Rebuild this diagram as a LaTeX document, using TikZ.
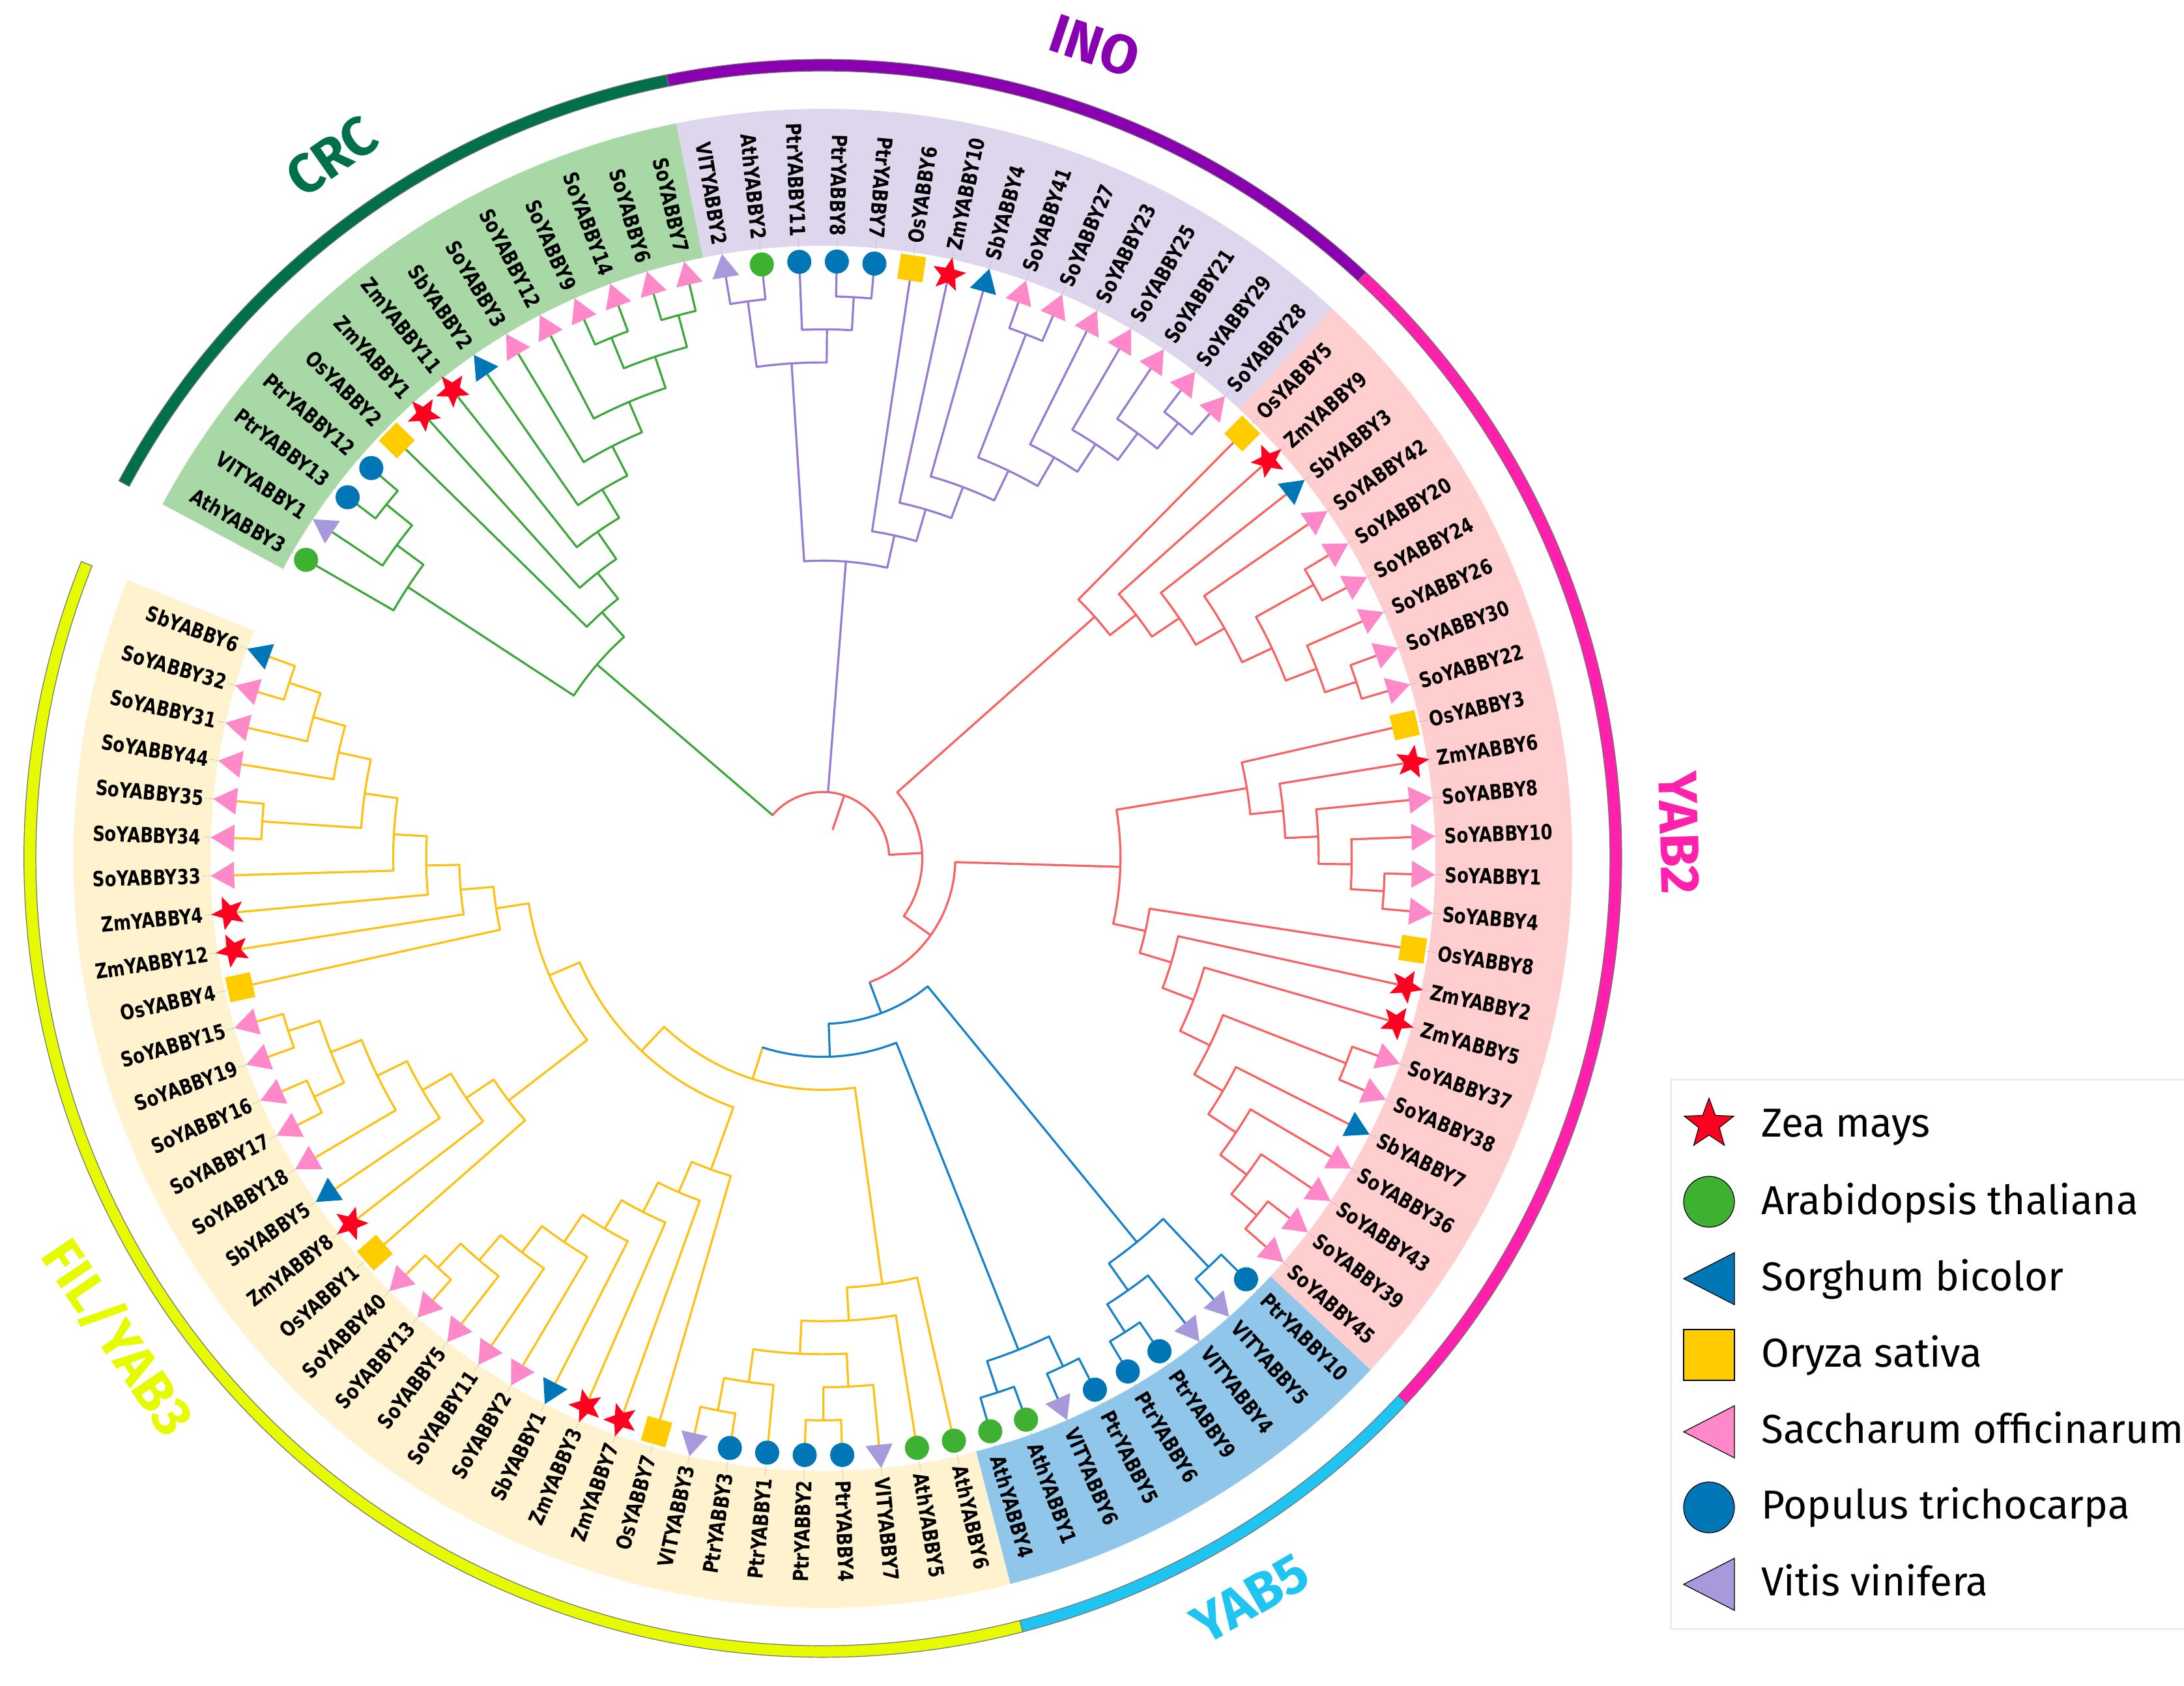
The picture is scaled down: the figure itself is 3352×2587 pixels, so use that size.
\documentclass[tikz,border=0pt]{standalone}
\usepackage{fontspec}
\setmainfont{Fira Sans}
\newfontfamily\labfont[FakeStretch=0.81]{DejaVu Sans}
\usetikzlibrary{shapes.geometric}
\definecolor{gbr}{RGB}{60,168,60}
\definecolor{pbr}{RGB}{150,122,212}
\definecolor{rbr}{RGB}{248,98,98}
\definecolor{bbr}{RGB}{22,130,204}
\definecolor{ybr}{RGB}{255,192,20}
\definecolor{gband}{RGB}{168,216,166}
\definecolor{pband}{RGB}{222,214,236}
\definecolor{rband}{RGB}{255,206,206}
\definecolor{bband}{RGB}{144,198,234}
\definecolor{yband}{RGB}{255,242,206}
\definecolor{gring}{RGB}{0,112,76}
\definecolor{pring}{RGB}{136,0,176}
\definecolor{rring}{RGB}{255,32,172}
\definecolor{bring}{RGB}{32,196,240}
\definecolor{yring}{RGB}{230,250,0}
\definecolor{czm}{RGB}{255,0,32}
\definecolor{cath}{RGB}{62,176,50}
\definecolor{csb}{RGB}{0,118,182}
\definecolor{cos}{RGB}{255,204,0}
\definecolor{cso}{RGB}{255,136,200}
\definecolor{cptr}{RGB}{0,118,182}
\definecolor{cvit}{RGB}{168,152,220}
\definecolor{legbox}{RGB}{236,236,236}

\newcommand\Lf[2]{%
  \pgfmathsetmacro\tmpa{150-#2*3.6082474}%
  \expandafter\xdef\csname A@#1\endcsname{\tmpa}%
  \expandafter\xdef\csname H@#1\endcsname{0}}
\newcommand\Nd[4]{%
  \edef\ca{\csname A@#2\endcsname}%
  \edef\cb{\csname A@#3\endcsname}%
  \edef\ha{\csname H@#2\endcsname}%
  \edef\hb{\csname H@#3\endcsname}%
  \pgfmathtruncatemacro\hh{max(\ha,\hb)+1}%
  \pgfmathsetmacro\rr{913-50.7*\hh}%
  \pgfmathsetmacro\ra{913-50.7*\ha}%
  \pgfmathsetmacro\rb{913-50.7*\hb}%
  \pgfmathsetmacro\mm{(\ca+\cb)/2}%
  \expandafter\xdef\csname A@#1\endcsname{\mm}%
  \expandafter\xdef\csname H@#1\endcsname{\hh}%
  \expandafter\xdef\csname C@#1\endcsname{#4}%
  \ifcsname C@#2\endcsname\edef\cca{\csname C@#2\endcsname}\else\def\cca{#4}\fi
  \ifcsname C@#3\endcsname\edef\ccb{\csname C@#3\endcsname}\else\def\ccb{#4}\fi
  \draw[br,color=\cca] (\ca:\ra pt) -- (\ca:\rr pt);
  \draw[br,color=\ccb] (\cb:\rb pt) -- (\cb:\rr pt);
  \draw[br,color=#4] (\ca:\rr pt) arc[start angle=\ca,end angle=\cb,radius=\rr pt];
}
\newcommand\Leaf[3]{%
  \pgfmathsetmacro\lfang{150-#1*3.6082474}%
  \draw[lead] (\lfang:938pt) -- (\lfang:953pt);
  \node[mk#3=\lfang] (m#1) at (\lfang:916pt) {};
  \ifnum#1<19 \node[lab,anchor=east,rotate=\lfang+180] (t#1) at (\lfang:955pt) {#2};%
  \else\ifnum#1>66 \node[lab,anchor=east,rotate=\lfang+180] (t#1) at (\lfang:955pt) {#2};%
  \else \node[lab,anchor=west,rotate=\lfang] (t#1) at (\lfang:955pt) {#2};\fi\fi
}
\newcommand\myBand[3]{%
  \fill[#3] (#1:940pt) arc[start angle=#1,end angle=#2,radius=940pt] -- (#2:1150pt) arc[start angle=#2,end angle=#1,radius=1150pt] -- cycle;}
\newcommand\myRing[3]{%
  \filldraw[fill=#3,draw=black!55,line width=1.2pt] (#1:1208pt) arc[start angle=#1,end angle=#2,radius=1208pt] -- (#2:1226pt) arc[start angle=#2,end angle=#1,radius=1226pt] -- cycle;}

\begin{document}
\begin{tikzpicture}[x=1pt,y=1pt,
  br/.style={line width=3.2pt,line cap=round,line join=round},
  lead/.style={draw=black!30,line width=1pt,dash pattern=on 2pt off 2pt},
  lab/.style={font=\labfont\bfseries\fontsize{32}{38}\selectfont,inner sep=0pt,text=black},
  grp/.style={font=\bfseries\fontsize{84}{90}\selectfont,inner sep=0pt},
  mkzm/.style={star,star points=5,star point ratio=2.3,fill=czm,inner sep=0pt,minimum size=54pt,rotate=#1-90},
  mkath/.style={circle,fill=cath,inner sep=0pt,minimum size=37pt},
  mkptr/.style={circle,fill=cptr,inner sep=0pt,minimum size=37pt},
  mkos/.style={rectangle,fill=cos,inner sep=0pt,minimum size=39pt,rotate=#1},
  mkso/.style={regular polygon,regular polygon sides=3,fill=cso,inner sep=0pt,minimum size=48pt,rotate=#1-90},
  mksb/.style={regular polygon,regular polygon sides=3,fill=csb,inner sep=0pt,minimum size=48pt,rotate=#1-90},
  mkvit/.style={regular polygon,regular polygon sides=3,fill=cvit,inner sep=0pt,minimum size=48pt,rotate=#1-90},
  legtxt/.style={font=\fontsize{62}{70}\selectfont,inner sep=0pt,anchor=base west}]
\useasboundingbox (-1263pt,-1270pt) rectangle (2089pt,1317pt);
\fill[white] (-1263pt,-1270pt) rectangle (2089pt,1317pt);

% background bands
\myBand{151.804}{101.289}{gband}
\myBand{101.289}{47.165}{pband}
\myBand{47.165}{-43.041}{rband}
\myBand{-43.041}{-75.515}{bband}
\myBand{-75.515}{-201.804}{yband}

% leaves data
\foreach \i in {0,...,97} {\Lf{l\i}{\i}}

% CRC
\Nd{cA}{l2}{l3}{gbr}
\Nd{cB}{l1}{cA}{gbr}
\Nd{cC}{l0}{cB}{gbr}
\Nd{cM}{l12}{l13}{gbr}
\Nd{cL}{l10}{l11}{gbr}
\Nd{cK}{cL}{cM}{gbr}
\Nd{cJ}{l9}{cK}{gbr}
\Nd{cI}{l8}{cJ}{gbr}
\Nd{cH}{l7}{cI}{gbr}
\Nd{cG}{l6}{cH}{gbr}
\Nd{cF}{l5}{cG}{gbr}
\Nd{cE}{l4}{cF}{gbr}
\Nd{cD}{cC}{cE}{gbr}
% INO
\Nd{iN1}{l14}{l15}{pbr}
\Nd{iP}{l17}{l18}{pbr}
\Nd{iN2}{l16}{iP}{pbr}
\Nd{iN3}{iN1}{iN2}{pbr}
\Nd{iQ1}{l27}{l28}{pbr}
\Nd{iQ2}{l26}{iQ1}{pbr}
\Nd{iQ3}{l25}{iQ2}{pbr}
\Nd{iQ4}{l24}{iQ3}{pbr}
\Nd{iP1}{l22}{l23}{pbr}
\Nd{iQ5}{iP1}{iQ4}{pbr}
\Nd{iQ6}{l21}{iQ5}{pbr}
\Nd{iQ7}{l20}{iQ6}{pbr}
\Nd{iQ8}{l19}{iQ7}{pbr}
\Nd{iINO}{iN3}{iQ8}{pbr}
% YAB2
\Nd{rR1}{l33}{l34}{rbr}
\Nd{rR2}{l36}{l37}{rbr}
\Nd{rR3}{l35}{rR2}{rbr}
\Nd{rR4}{rR1}{rR3}{rbr}
\Nd{rR5}{l32}{rR4}{rbr}
\Nd{rR6}{l31}{rR5}{rbr}
\Nd{rR7}{l30}{rR6}{rbr}
\Nd{rR8}{l29}{rR7}{rbr}
\Nd{rS1}{l42}{l43}{rbr}
\Nd{rS2}{l41}{rS1}{rbr}
\Nd{rS3}{l40}{rS2}{rbr}
\Nd{rS4}{l39}{rS3}{rbr}
\Nd{rS5}{l38}{rS4}{rbr}
\Nd{rT7}{l52}{l53}{rbr}
\Nd{rT6}{l51}{rT7}{rbr}
\Nd{rT5}{l50}{rT6}{rbr}
\Nd{rT4}{l49}{rT5}{rbr}
\Nd{rU1}{l47}{l48}{rbr}
\Nd{rT3}{rU1}{rT4}{rbr}
\Nd{rT2}{l46}{rT3}{rbr}
\Nd{rT1}{l45}{rT2}{rbr}
\Nd{rT}{l44}{rT1}{rbr}
\Nd{rS6}{rS5}{rT}{rbr}
% YAB5
\Nd{bV3}{l54}{l55}{bbr}
\Nd{bV4}{l57}{l58}{bbr}
\Nd{bV2}{l56}{bV4}{bbr}
\Nd{bV1}{bV3}{bV2}{bbr}
\Nd{bW1}{l59}{l60}{bbr}
\Nd{bW2}{l61}{l62}{bbr}
\Nd{bWb}{bW1}{bW2}{bbr}
% FIL/YAB3
\Nd{yGp}{l66}{l67}{ybr}
\Nd{yG2}{l65}{yGp}{ybr}
\Nd{yG0}{l69}{l70}{ybr}
\Nd{yG1}{l68}{yG0}{ybr}
\Nd{yG3}{yG2}{yG1}{ybr}
\Nd{yG4}{l64}{yG3}{ybr}
\Nd{yFd}{l63}{yG4}{ybr}
\Nd{yL1}{l78}{l79}{ybr}
\Nd{yL2}{l77}{yL1}{ybr}
\Nd{yL3}{l76}{yL2}{ybr}
\Nd{yL4}{l75}{yL3}{ybr}
\Nd{yL5}{l74}{yL4}{ybr}
\Nd{yL6}{l73}{yL5}{ybr}
\Nd{yL7}{l72}{yL6}{ybr}
\Nd{yL8}{l71}{yL7}{ybr}
\Nd{yB1}{l86}{l87}{ybr}
\Nd{yB2}{l84}{l85}{ybr}
\Nd{yB3}{yB2}{yB1}{ybr}
\Nd{yB4}{l83}{yB3}{ybr}
\Nd{yB5}{l82}{yB4}{ybr}
\Nd{yB6}{l81}{yB5}{ybr}
\Nd{yB7}{l80}{yB6}{ybr}
\Nd{yA1}{l96}{l97}{ybr}
\Nd{yA2}{l95}{yA1}{ybr}
\Nd{yA3}{l94}{yA2}{ybr}
\Nd{yAB}{l92}{l93}{ybr}
\Nd{yA4}{yAB}{yA3}{ybr}
\Nd{yA5}{l91}{yA4}{ybr}
\Nd{yA6}{l90}{yA5}{ybr}
\Nd{yA7}{l89}{yA6}{ybr}
\Nd{yA8}{l88}{yA7}{ybr}
\Nd{yFc}{yB7}{yA8}{ybr}
\Nd{yFb}{yL8}{yFc}{ybr}
\Nd{yFr}{yFd}{yFb}{ybr}
% backbone
\Nd{bW}{yFr}{bWb}{bbr}
\Nd{bZ}{bW}{bV1}{bbr}
\Nd{rY}{rS6}{bZ}{rbr}
\Nd{rX}{rR8}{rY}{rbr}
\Nd{root}{cD}{rX}{rbr}
\edef\aI{\csname A@iINO\endcsname}
\edef\aR{\csname A@root\endcsname}
\pgfmathsetmacro\rI{913-50.7*9}
\pgfmathsetmacro\rR{913-50.7*16}
\draw[br,color=pbr] (\aI:\rR pt) -- (\aI:\rI pt);
\draw[br,color=rbr] (\aR:47pt) -- (\aR:\rR pt);

% leaves: markers and labels
\Leaf{0}{AthYABBY3}{ath}
\Leaf{1}{VITYABBY1}{vit}
\Leaf{2}{PtrYABBY13}{ptr}
\Leaf{3}{PtrYABBY12}{ptr}
\Leaf{4}{OsYABBY2}{os}
\Leaf{5}{ZmYABBY1}{zm}
\Leaf{6}{ZmYABBY11}{zm}
\Leaf{7}{SbYABBY2}{sb}
\Leaf{8}{SoYABBY3}{so}
\Leaf{9}{SoYABBY12}{so}
\Leaf{10}{SoYABBY9}{so}
\Leaf{11}{SoYABBY14}{so}
\Leaf{12}{SoYABBY6}{so}
\Leaf{13}{SoYABBY7}{so}
\Leaf{14}{VITYABBY2}{vit}
\Leaf{15}{AthYABBY2}{ath}
\Leaf{16}{PtrYABBY11}{ptr}
\Leaf{17}{PtrYABBY8}{ptr}
\Leaf{18}{PtrYABBY7}{ptr}
\Leaf{19}{OsYABBY6}{os}
\Leaf{20}{ZmYABBY10}{zm}
\Leaf{21}{SbYABBY4}{sb}
\Leaf{22}{SoYABBY41}{so}
\Leaf{23}{SoYABBY27}{so}
\Leaf{24}{SoYABBY23}{so}
\Leaf{25}{SoYABBY25}{so}
\Leaf{26}{SoYABBY21}{so}
\Leaf{27}{SoYABBY29}{so}
\Leaf{28}{SoYABBY28}{so}
\Leaf{29}{OsYABBY5}{os}
\Leaf{30}{ZmYABBY9}{zm}
\Leaf{31}{SbYABBY3}{sb}
\Leaf{32}{SoYABBY42}{so}
\Leaf{33}{SoYABBY20}{so}
\Leaf{34}{SoYABBY24}{so}
\Leaf{35}{SoYABBY26}{so}
\Leaf{36}{SoYABBY30}{so}
\Leaf{37}{SoYABBY22}{so}
\Leaf{38}{OsYABBY3}{os}
\Leaf{39}{ZmYABBY6}{zm}
\Leaf{40}{SoYABBY8}{so}
\Leaf{41}{SoYABBY10}{so}
\Leaf{42}{SoYABBY1}{so}
\Leaf{43}{SoYABBY4}{so}
\Leaf{44}{OsYABBY8}{os}
\Leaf{45}{ZmYABBY2}{zm}
\Leaf{46}{ZmYABBY5}{zm}
\Leaf{47}{SoYABBY37}{so}
\Leaf{48}{SoYABBY38}{so}
\Leaf{49}{SbYABBY7}{sb}
\Leaf{50}{SoYABBY36}{so}
\Leaf{51}{SoYABBY43}{so}
\Leaf{52}{SoYABBY39}{so}
\Leaf{53}{SoYABBY45}{so}
\Leaf{54}{PtrYABBY10}{ptr}
\Leaf{55}{VITYABBY5}{vit}
\Leaf{56}{VITYABBY4}{vit}
\Leaf{57}{PtrYABBY9}{ptr}
\Leaf{58}{PtrYABBY6}{ptr}
\Leaf{59}{PtrYABBY5}{ptr}
\Leaf{60}{VITYABBY6}{vit}
\Leaf{61}{AthYABBY1}{ath}
\Leaf{62}{AthYABBY4}{ath}
\Leaf{63}{AthYABBY6}{ath}
\Leaf{64}{AthYABBY5}{ath}
\Leaf{65}{VITYABBY7}{vit}
\Leaf{66}{PtrYABBY4}{ptr}
\Leaf{67}{PtrYABBY2}{ptr}
\Leaf{68}{PtrYABBY1}{ptr}
\Leaf{69}{PtrYABBY3}{ptr}
\Leaf{70}{VITYABBY3}{vit}
\Leaf{71}{OsYABBY7}{os}
\Leaf{72}{ZmYABBY7}{zm}
\Leaf{73}{ZmYABBY3}{zm}
\Leaf{74}{SbYABBY1}{sb}
\Leaf{75}{SoYABBY2}{so}
\Leaf{76}{SoYABBY11}{so}
\Leaf{77}{SoYABBY5}{so}
\Leaf{78}{SoYABBY13}{so}
\Leaf{79}{SoYABBY40}{so}
\Leaf{80}{OsYABBY1}{os}
\Leaf{81}{ZmYABBY8}{zm}
\Leaf{82}{SbYABBY5}{sb}
\Leaf{83}{SoYABBY18}{so}
\Leaf{84}{SoYABBY17}{so}
\Leaf{85}{SoYABBY16}{so}
\Leaf{86}{SoYABBY19}{so}
\Leaf{87}{SoYABBY15}{so}
\Leaf{88}{OsYABBY4}{os}
\Leaf{89}{ZmYABBY12}{zm}
\Leaf{90}{ZmYABBY4}{zm}
\Leaf{91}{SoYABBY33}{so}
\Leaf{92}{SoYABBY34}{so}
\Leaf{93}{SoYABBY35}{so}
\Leaf{94}{SoYABBY44}{so}
\Leaf{95}{SoYABBY31}{so}
\Leaf{96}{SoYABBY32}{so}
\Leaf{97}{SbYABBY6}{sb}

% outer rings
\myRing{151.804}{101.289}{gring}
\myRing{101.289}{47.165}{pring}
\myRing{47.165}{-43.041}{rring}
\myRing{-43.041}{-75.515}{bring}
\myRing{-75.515}{-201.804}{yring}

% group labels
\node[grp,text=gring,rotate=35] (gCRC) at (125:1315pt) {CRC};
\node[grp,text=pring,rotate=-18.5] (gINO) at (71.5:1315pt) {INO};
\node[grp,text=rring,rotate=-88.3] (gYAB2) at (1.7:1315pt) {YAB2};
\node[grp,text=bring,rotate=30] (gYAB5) at (-60:1312pt) {YAB5};
\node[grp,text=yring,rotate=-55.8] (gFIL) at (-145.8:1308pt) {FIL/YAB3};

% legend
\draw[draw=legbox,line width=3pt] (1301pt,-1182pt) rectangle (2140pt,-340pt);
\node[star,star points=5,star point ratio=2.4,fill=czm,draw=black,line width=1.2pt,inner sep=0pt,minimum size=80pt] (lg1) at (1360pt,-408pt) {};
\node[circle,fill=cath,draw=black,line width=1.2pt,inner sep=0pt,minimum size=78pt] (lg2) at (1360pt,-527pt) {};
\draw[fill=csb,draw=black,line width=1.2pt] (1399pt,-605pt) -- (1399pt,-685pt) -- (1321pt,-645pt) -- cycle;
\node[rectangle,fill=cos,draw=black,line width=1.2pt,inner sep=0pt,minimum size=78pt] (lg4) at (1360pt,-762pt) {};
\draw[fill=cso,draw=black,line width=1.2pt] (1399pt,-840pt) -- (1399pt,-920pt) -- (1321pt,-880pt) -- cycle;
\node[circle,fill=cptr,draw=black,line width=1.2pt,inner sep=0pt,minimum size=78pt] (lg6) at (1360pt,-996pt) {};
\draw[fill=cvit,draw=black,line width=1.2pt] (1399pt,-1074pt) -- (1399pt,-1154pt) -- (1321pt,-1114pt) -- cycle;
\node[legtxt] (lt1) at (1440pt,-428pt) {Zea mays};
\node[legtxt] (lt2) at (1440pt,-546pt) {Arabidopsis thaliana};
\node[legtxt] (lt3) at (1440pt,-663pt) {Sorghum bicolor};
\node[legtxt] (lt4) at (1440pt,-780pt) {Oryza sativa};
\node[legtxt] (lt5) at (1440pt,-897pt) {Saccharum officinarum};
\node[legtxt] (lt6) at (1440pt,-1013pt) {Populus trichocarpa};
\node[legtxt] (lt7) at (1440pt,-1131pt) {Vitis vinifera};
\end{tikzpicture}
\end{document}
